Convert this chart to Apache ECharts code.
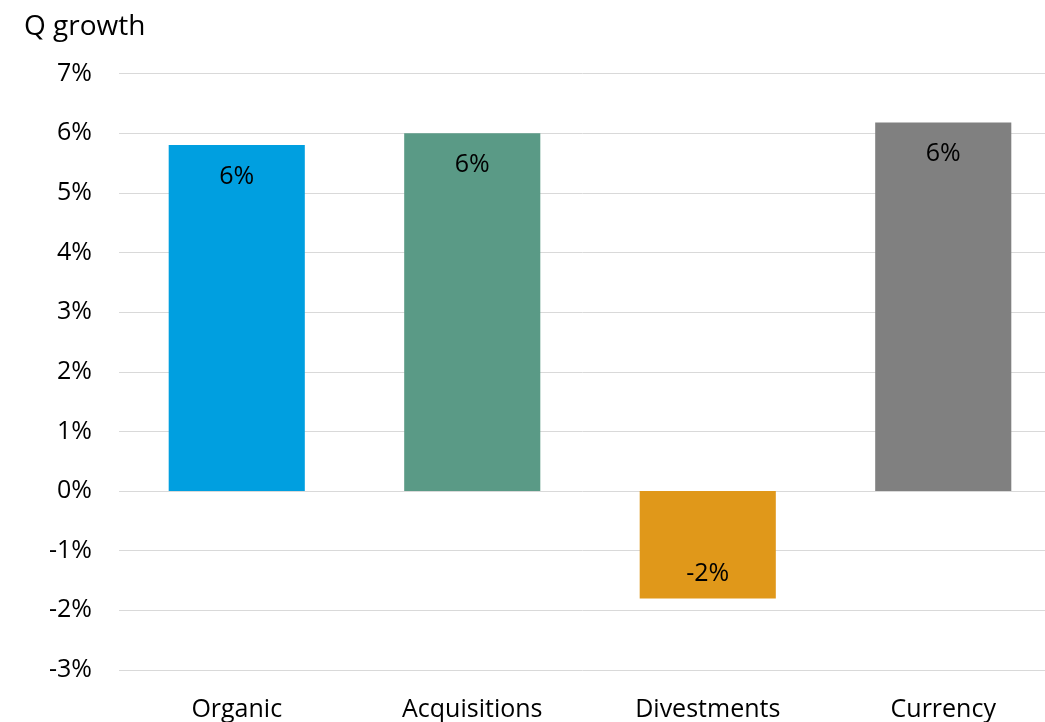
<!DOCTYPE html>
<html>
<head>
<meta charset="utf-8">
<script src="https://cdn.jsdelivr.net/npm/echarts@6/dist/echarts.min.js"></script>
<style>
html,body{margin:0;padding:0;background:#fff;}
#chart{width:1045px;height:722px;}
</style>
</head>
<body>
<div id="chart"></div>
<script>
const categories = ['Organic', 'Acquisitions', 'Divestments', 'Currency'];
const values = [5.8, 6.0, -1.8, 6.18];
const labels = ['6%', '6%', '-2%', '6%'];
const colors = ['#009FE0', '#5A9A86', '#E0981A', '#808080'];
const yTicks = { min: -3, max: 7, interval: 1 };
const titleText = 'Q growth';

const FONT = 'Open Sans';
const chart = echarts.init(document.getElementById('chart'));
chart.setOption({
  animation: false,
  title: {
    text: titleText, left: 19, top: 8,
    textStyle: { fontFamily: FONT, fontSize: 28, fontWeight: 'normal', color: '#000' }
  },
  grid: { left: 119, width: 942, top: 73.5, bottom: 52, containLabel: false, outerBoundsMode: 'none' },
  xAxis: {
    type: 'category', data: categories,
    axisLine: { show: false }, axisTick: { show: false },
    axisLabel: { fontFamily: FONT, fontSize: 25, color: '#000', margin: 27 }
  },
  yAxis: {
    type: 'value', min: yTicks.min, max: yTicks.max, interval: yTicks.interval,
    axisLine: { show: false }, axisTick: { show: false },
    axisLabel: { fontFamily: FONT, fontSize: 25, color: '#000', margin: 27,
      formatter: v => v + '%' },
    splitLine: { lineStyle: { color: '#D9D9D9', width: 1 } }
  },
  series: [{
    type: 'bar',
    barWidth: '57.8%',
    data: values.map((v, i) => ({
      value: v,
      itemStyle: { color: colors[i] },
      label: {
        show: true,
        position: v >= 0 ? 'insideTop' : 'insideBottom',
        distance: v >= 0 ? 19 : 12,
        formatter: labels[i],
        fontFamily: FONT, fontSize: 25, color: '#000'
      }
    }))
  }]
});
</script>
</body>
</html>
